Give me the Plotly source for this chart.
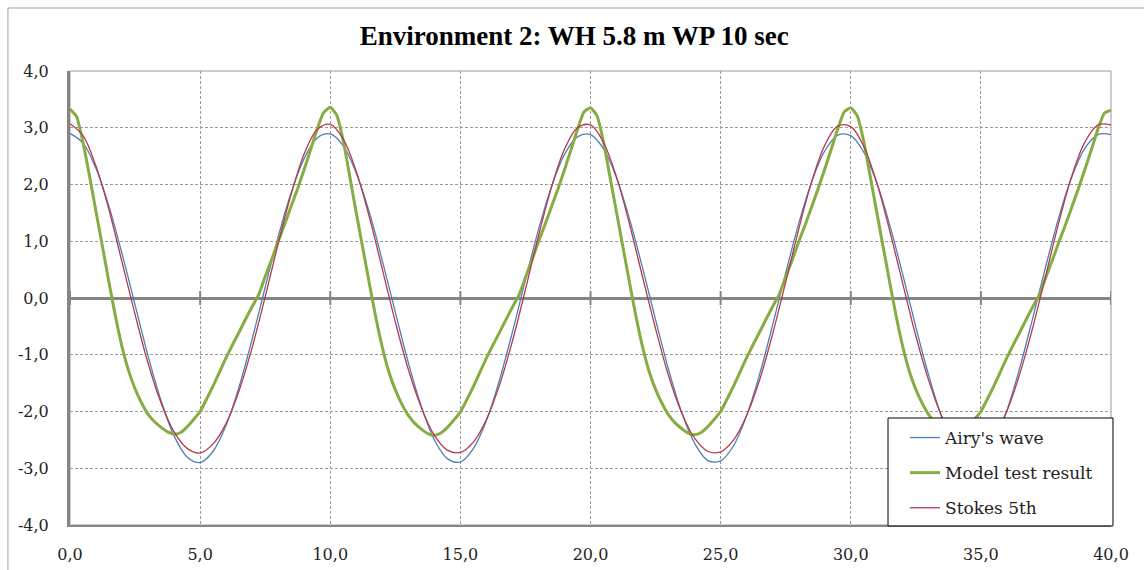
import plotly.graph_objects as go

# ---------------- data ----------------
time_half = [0.0, 0.5, 1.0, 1.5, 2.0, 2.5, 3.0, 3.5, 4.0, 4.5,
             5.0, 5.5, 6.0, 6.5, 7.0, 7.5, 8.0, 8.5, 9.0, 9.5,
             10.0, 10.5, 11.0, 11.5, 12.0, 12.5, 13.0, 13.5, 14.0, 14.5,
             15.0, 15.5, 16.0, 16.5, 17.0, 17.5, 18.0, 18.5, 19.0, 19.5,
             20.0, 20.5, 21.0, 21.5, 22.0, 22.5, 23.0, 23.5, 24.0, 24.5,
             25.0, 25.5, 26.0, 26.5, 27.0, 27.5, 28.0, 28.5, 29.0, 29.5,
             30.0, 30.5, 31.0, 31.5, 32.0, 32.5, 33.0, 33.5, 34.0, 34.5,
             35.0, 35.5, 36.0, 36.5, 37.0, 37.5, 38.0, 38.5, 39.0, 39.5,
             40.0]

airy_wave = [2.90, 2.73, 2.28, 1.61, 0.78, -0.12, -1.02, -1.81, -2.43, -2.80,
             -2.90, -2.70, -2.24, -1.56, -0.72, 0.19, 1.08, 1.86, 2.46, 2.82,
             2.89, 2.68, 2.20, 1.51, 0.66, -0.25, -1.14, -1.91, -2.50, -2.83,
             -2.89, -2.65, -2.16, -1.45, -0.60, 0.32, 1.20, 1.96, 2.53, 2.84,
             2.88, 2.63, 2.12, 1.39, 0.53, -0.38, -1.26, -2.01, -2.56, -2.86,
             -2.87, -2.60, -2.07, -1.34, -0.47, 0.44, 1.31, 2.05, 2.59, 2.87,
             2.86, 2.57, 2.03, 1.28, 0.41, -0.51, -1.37, -2.10, -2.62, -2.88,
             -2.85, -2.54, -1.98, -1.22, -0.34, 0.57, 1.43, 2.14, 2.64, 2.88,
             2.88]

stokes_5th = [3.07, 2.86, 2.32, 1.55, 0.63, -0.29, -1.15, -1.85, -2.36, -2.65,
              -2.73, -2.57, -2.21, -1.63, -0.87, 0.02, 0.96, 1.83, 2.54, 2.97,
              3.06, 2.80, 2.23, 1.43, 0.51, -0.42, -1.26, -1.93, -2.42, -2.68,
              -2.72, -2.54, -2.14, -1.54, -0.76, 0.15, 1.09, 1.95, 2.62, 3.00,
              3.05, 2.74, 2.13, 1.30, 0.37, -0.54, -1.37, -2.02, -2.47, -2.70,
              -2.71, -2.50, -2.07, -1.44, -0.63, 0.28, 1.21, 2.05, 2.69, 3.03,
              3.02, 2.67, 2.03, 1.18, 0.25, -0.67, -1.46, -2.09, -2.51, -2.72,
              -2.69, -2.45, -1.99, -1.33, -0.51, 0.41, 1.34, 2.16, 2.75, 3.05,
              3.05]

time_quarter = [0.0, 0.25, 0.5, 0.75, 1.0, 1.25, 1.5, 1.75, 2.0, 2.25,
                2.5, 2.75, 3.0, 3.25, 3.5, 3.75, 4.0, 4.25, 4.5, 4.75,
                5.0, 5.25, 5.5, 5.75, 6.0, 6.25, 6.5, 6.75, 7.0, 7.25,
                7.5, 7.75, 8.0, 8.25, 8.5, 8.75, 9.0, 9.25, 9.5, 9.75,
                10.0, 10.25, 10.5, 10.75, 11.0, 11.25, 11.5, 11.75, 12.0, 12.25,
                12.5, 12.75, 13.0, 13.25, 13.5, 13.75, 14.0, 14.25, 14.5, 14.75,
                15.0, 15.25, 15.5, 15.75, 16.0, 16.25, 16.5, 16.75, 17.0, 17.25,
                17.5, 17.75, 18.0, 18.25, 18.5, 18.75, 19.0, 19.25, 19.5, 19.75,
                20.0, 20.25, 20.5, 20.75, 21.0, 21.25, 21.5, 21.75, 22.0, 22.25,
                22.5, 22.75, 23.0, 23.25, 23.5, 23.75, 24.0, 24.25, 24.5, 24.75,
                25.0, 25.25, 25.5, 25.75, 26.0, 26.25, 26.5, 26.75, 27.0, 27.25,
                27.5, 27.75, 28.0, 28.25, 28.5, 28.75, 29.0, 29.25, 29.5, 29.75,
                30.0, 30.25, 30.5, 30.75, 31.0, 31.25, 31.5, 31.75, 32.0, 32.25,
                32.5, 32.75, 33.0, 33.25, 33.5, 33.75, 34.0, 34.25, 34.5, 34.75,
                35.0, 35.25, 35.5, 35.75, 36.0, 36.25, 36.5, 36.75, 37.0, 37.25,
                37.5, 37.75, 38.0, 38.25, 38.5, 38.75, 39.0, 39.25, 39.5, 39.75,
                40.0]

model_test = [3.33, 3.20, 2.74, 2.15, 1.52, 0.90, 0.27, -0.33, -0.86, -1.28,
              -1.60, -1.85, -2.05, -2.18, -2.28, -2.36, -2.40, -2.37, -2.27, -2.14,
              -2.00, -1.78, -1.55, -1.30, -1.05, -0.82, -0.60, -0.37, -0.15, 0.06,
              0.38, 0.68, 1.00, 1.30, 1.62, 1.93, 2.27, 2.62, 2.98, 3.27,
              3.36, 3.22, 2.77, 2.14, 1.50, 0.88, 0.26, -0.34, -0.87, -1.30,
              -1.62, -1.87, -2.07, -2.21, -2.31, -2.39, -2.42, -2.38, -2.28, -2.15,
              -2.01, -1.79, -1.56, -1.31, -1.06, -0.83, -0.61, -0.38, -0.16, 0.05,
              0.36, 0.67, 0.99, 1.29, 1.61, 1.92, 2.26, 2.61, 2.97, 3.28,
              3.35, 3.21, 2.75, 2.13, 1.51, 0.89, 0.27, -0.33, -0.86, -1.29,
              -1.61, -1.86, -2.06, -2.20, -2.30, -2.38, -2.41, -2.37, -2.27, -2.14,
              -2.00, -1.78, -1.55, -1.30, -1.05, -0.82, -0.60, -0.37, -0.15, 0.06,
              0.37, 0.67, 0.99, 1.29, 1.61, 1.93, 2.27, 2.62, 2.98, 3.28,
              3.35, 3.21, 2.76, 2.14, 1.51, 0.89, 0.27, -0.33, -0.86, -1.29,
              -1.61, -1.86, -2.06, -2.20, -2.30, -2.38, -2.41, -2.37, -2.27, -2.14,
              -2.00, -1.78, -1.55, -1.30, -1.05, -0.82, -0.60, -0.37, -0.15, 0.06,
              0.37, 0.67, 0.99, 1.29, 1.61, 1.93, 2.27, 2.62, 2.98, 3.26,
              3.31]

x_tick_vals = [0, 5, 10, 15, 20, 25, 30, 35, 40]
x_tick_text = ["0,0", "5,0", "10,0", "15,0", "20,0", "25,0", "30,0", "35,0", "40,0"]
y_tick_vals = [-4, -3, -2, -1, 0, 1, 2, 3, 4]
y_tick_text = ["-4,0", "-3,0", "-2,0", "-1,0", "0,0", "1,0", "2,0", "3,0", "4,0"]
zero_ticks_y = [0, 0, 0, 0, 0, 0, 0, 0, 0]

title_text = "Environment 2: WH 5.8 m WP 10 sec"

# ---------------- styles ----------------
AXIS_GREY = "#858585"
GRID_GREY = "#9a9a9a"
SERIF = "DejaVu Serif"

fig = go.Figure()

# tick marks on the zero (category) axis
fig.add_trace(go.Scatter(
    x=x_tick_vals, y=zero_ticks_y, mode="markers", showlegend=False, hoverinfo="skip",
    marker=dict(symbol="line-ns", size=10, line=dict(color=AXIS_GREY, width=2)),
))

fig.add_trace(go.Scatter(
    x=time_half, y=airy_wave, name="Airy's wave", mode="lines", legendgroup="a",
    line=dict(color="#4F7FB5", width=1.3, shape="spline"),
))
fig.add_trace(go.Scatter(
    x=time_quarter, y=model_test, name="Model test result", mode="lines", legendgroup="b",
    line=dict(color="#86AC44", width=3, shape="spline", smoothing=0.5),
))
fig.add_trace(go.Scatter(
    x=time_half, y=stokes_5th, name="Stokes 5th", mode="lines", legendgroup="c",
    line=dict(color="#B53A4C", width=1.3, shape="spline"),
))

fig.update_layout(
    width=1144, height=570, autosize=False,
    margin=dict(l=70, r=33, t=71, b=45),
    paper_bgcolor="white", plot_bgcolor="white",
    title=dict(text="<b>" + title_text + "</b>", x=0.502, xref="container", xanchor="center",
               y=0.937, yref="container", yanchor="middle",
               font=dict(family="Liberation Serif", size=27, color="black")),
    showlegend=True,
    legend=dict(x=0.8021, y=0.2313, xanchor="left", yanchor="top",
                bgcolor="rgba(0,0,0,0)", borderwidth=0,
                font=dict(family=SERIF, size=17, color="#222"),
                tracegroupgap=10, itemwidth=30),
    xaxis=dict(range=[0, 40], tickvals=x_tick_vals, ticktext=x_tick_text, automargin=False,
               showgrid=True, gridcolor=GRID_GREY, griddash="3px,2px", gridwidth=1,
               zeroline=False, showline=True, linecolor=AXIS_GREY, linewidth=2,
               ticks="outside", ticklen=14, tickcolor="rgba(0,0,0,0)",
               tickfont=dict(family=SERIF, size=16, color="#222")),
    yaxis=dict(range=[-4, 4], tickvals=y_tick_vals, ticktext=y_tick_text, automargin=False,
               showgrid=True, gridcolor=GRID_GREY, griddash="3px,2px", gridwidth=1,
               zeroline=True, zerolinecolor=AXIS_GREY, zerolinewidth=3,
               showline=True, linecolor=AXIS_GREY, linewidth=3,
               ticks="outside", ticklen=15, tickcolor="rgba(0,0,0,0)",
               tickfont=dict(family=SERIF, size=16, color="#222")),
    shapes=[
        # plot-area frame (top / right)
        dict(type="rect", xref="paper", yref="paper", x0=0, x1=1, y0=0, y1=1,
             line=dict(color=GRID_GREY, width=1), layer="below"),
        # chart-area border (only top and left are inside the picture)
        dict(type="rect", xref="paper", yref="paper", x0=-0.0596, x1=1.2, y0=-0.3, y1=1.1388,
             line=dict(color="#a0a0a0", width=1), layer="below"),
        # legend box
        dict(type="rect", xref="paper", yref="paper", x0=0.7858, x1=1.0019, y0=-0.002, y1=0.2357,
             line=dict(color="black", width=1), fillcolor="white", layer="above"),
    ],
)

fig.write_html("out.html")
